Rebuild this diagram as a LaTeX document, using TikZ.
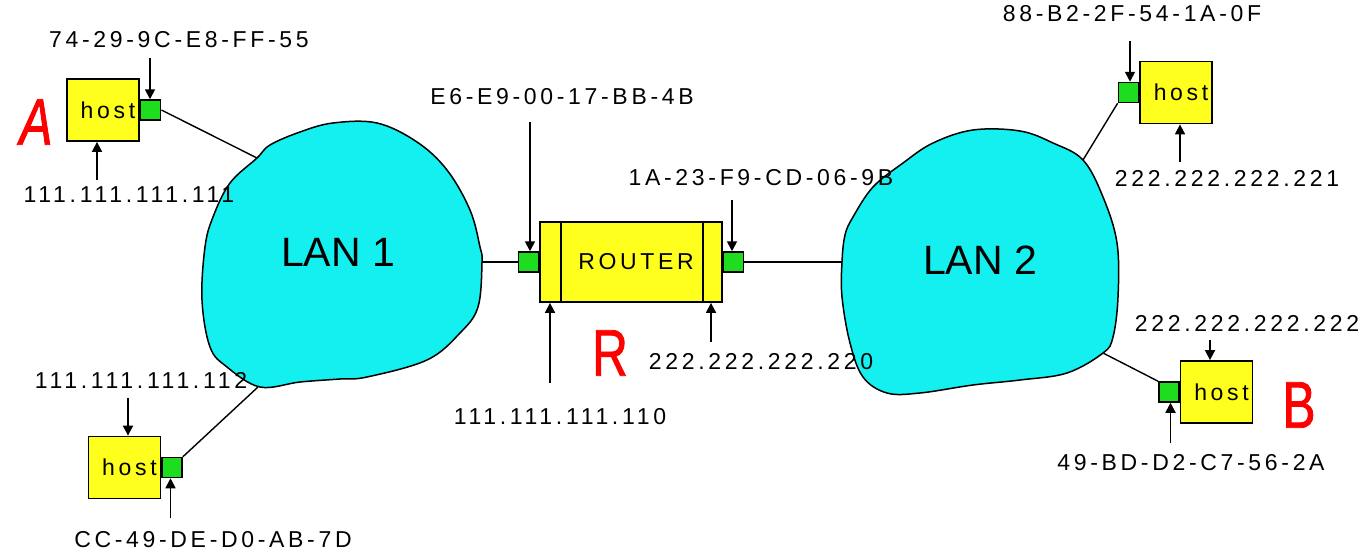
\documentclass[tikz,border=0pt]{standalone}
\usepackage{fontspec}
\setmainfont{Liberation Sans}
\newfontfamily\lblfont[LetterSpace=16]{Liberation Sans}
\newfontfamily\handfont[FakeStretch=0.75,FakeBold=1.2]{Liberation Sans}
\usetikzlibrary{arrows.meta}
\definecolor{lancyan}{RGB}{20,240,240}
\definecolor{hostyellow}{RGB}{255,255,30}
\definecolor{portgreen}{RGB}{30,220,30}
\definecolor{markred}{RGB}{255,0,0}
\begin{document}
\begin{tikzpicture}[x=1pt,y=-1pt,
  hostbox/.style={draw=black,line width=1.8pt,fill=hostyellow,minimum width=72pt,minimum height=62pt,inner sep=0pt,font=\lblfont\fontsize{23}{26}\selectfont},
  routerbox/.style={draw=black,line width=1.8pt,fill=hostyellow,minimum width=182pt,minimum height=80pt,inner sep=0pt,font=\lblfont\fontsize{23}{26}\selectfont},
  port/.style={draw=black,line width=1.5pt,fill=portgreen,minimum width=20pt,minimum height=20pt,inner sep=0pt},
  addr/.style={font=\lblfont\fontsize{23}{26}\selectfont,inner sep=0pt},
  lan/.style={fill=lancyan,draw=black,line width=1.5pt},
  lantext/.style={font=\fontsize{41}{48}\selectfont,inner sep=0pt},
  arr/.style={line width=1.7pt,-{Triangle[width=10pt,length=10pt]}},
  link/.style={line width=1.4pt},
  redletter/.style={text=markred,font=\handfont\fontsize{66}{70}\selectfont,inner sep=0pt}]
\useasboundingbox (0,0) rectangle (1367,551);

% LAN clouds
\draw[lan] plot[smooth cycle,tension=0.6] coordinates {
  (257,158) (270,145) (300,132) (333,123) (377,123) (417,142) (447,170)
  (470,210) (480,247) (482,262) (478,307) (460,333) (427,360) (367,377)
  (340,379) (300,382) (260,387) (227,367) (210,347) (202,300) (205,247)
  (213,217) (230,183)};
\node[lantext] (lan1) at (338,252) {LAN 1};
\draw[lan] plot[smooth cycle,tension=0.6] coordinates {
  (973,130) (1020,131) (1053,143) (1083,160) (1103,197) (1117,243)
  (1118,297) (1113,337) (1103,353) (1067,373) (1020,380) (973,385)
  (920,393) (887,393) (863,377) (850,343) (842,297) (842,262) (845,235)
  (853,217) (873,187) (903,163) (933,143)};
\node[lantext] (lan2) at (980,260) {LAN 2};

\coordinate (L1a) at (257,158);
\coordinate (L1c) at (258,387);
\coordinate (L1r) at (482,262);
\coordinate (L2l) at (842,262);
\coordinate (L2b) at (1083,160);
\coordinate (L2d) at (1103,353);

% hosts
\node[hostbox] (hA) at (103,110) {\hspace*{10pt}host};
\node[port,anchor=west] (pA) at (hA.east) {};
\node[hostbox] (hC) at (124.5,467.5) {\hspace*{10pt}host};
\node[port,anchor=west] (pC) at (hC.east) {};
\node[hostbox] (hB) at (1176,92.5) {\hspace*{10pt}host};
\node[port,anchor=east] (pB) at (hB.west) {};
\node[hostbox] (hD) at (1216.5,392) {\hspace*{10pt}host};
\node[port,anchor=east] (pD) at (hD.west) {};

% router
\node[routerbox] (R) at (631,262) {\hspace*{10pt}ROUTER};
\draw[line width=1.5pt] ([xshift=22pt]R.north west) -- ([xshift=22pt]R.south west);
\draw[line width=1.5pt] ([xshift=-20pt]R.north east) -- ([xshift=-20pt]R.south east);
\node[port,anchor=east] (pR1) at (R.west) {};
\node[port,anchor=west] (pR2) at (R.east) {};

% links
\draw[link] (pA.east) -- (L1a);
\draw[link] (pC.north east) -- (L1c);
\draw[link] (L1r) -- (pR1.west);
\draw[link] (pR2.east) -- (L2l);
\draw[link] (pB.south west) -- (L2b);
\draw[link] (pD.north west) -- (L2d);

% address labels
\node[addr] (tA1) at (179,40) {74-29-9C-E8-FF-55};
\node[addr] (tA2) at (129,195) {111.111.111.111};
\node[addr] (tC1) at (141,380) {111.111.111.112};
\node[addr] (tC2) at (213,540) {CC-49-DE-D0-AB-7D};
\node[addr] (tR1) at (562,97) {E6-E9-00-17-BB-4B};
\node[addr] (tR2) at (761,178) {1A-23-F9-CD-06-9B};
\node[addr] (tR3) at (560,417) {111.111.111.110};
\node[addr] (tR4) at (761,362) {222.222.222.220};
\node[addr] (tB1) at (1132,14) {88-B2-2F-54-1A-0F};
\node[addr] (tB2) at (1227,178) {222.222.222.221};
\node[addr] (tD1) at (1247,323) {222.222.222.222};
\node[addr] (tD2) at (1191,463) {49-BD-D2-C7-56-2A};

% arrows
\coordinate (sA1) at (150,58);
\coordinate (sA2) at (97,180);
\coordinate (sC1) at (128,398);
\coordinate (sC2) at (170.5,518);
\coordinate (sB1) at (1130,41);
\coordinate (sB2) at (1180,162);
\coordinate (sD1) at (1210,340);
\coordinate (sD2) at (1170.5,443);
\coordinate (sR1) at (530,122);
\coordinate (sR2) at (732,200);
\coordinate (sR3) at (550,383);
\coordinate (sR4) at (711,342);
\draw[arr] (sA1) -- (sA1 |- pA.north);
\draw[arr] (sA2) -- (sA2 |- hA.south);
\draw[arr] (sC1) -- (sC1 |- hC.north);
\draw[arr] (sC2) -- (sC2 |- pC.south);
\draw[arr] (sB1) -- (sB1 |- pB.north);
\draw[arr] (sB2) -- (sB2 |- hB.south);
\draw[arr] (sD1) -- (sD1 |- hD.north);
\draw[arr] (sD2) -- (sD2 |- pD.south);
\draw[arr] (sR1) -- (sR1 |- pR1.north);
\draw[arr] (sR2) -- (sR2 |- pR2.north);
\draw[arr] (sR3) -- (sR3 |- R.south);
\draw[arr] (sR4) -- (sR4 |- R.south);

% red markers
\node[redletter] (mA) at (36,122) {\itshape A};
\node[redletter] (mR) at (610,353) {R};
\node[redletter] (mB) at (1299,405) {B};
\end{tikzpicture}
\end{document}
